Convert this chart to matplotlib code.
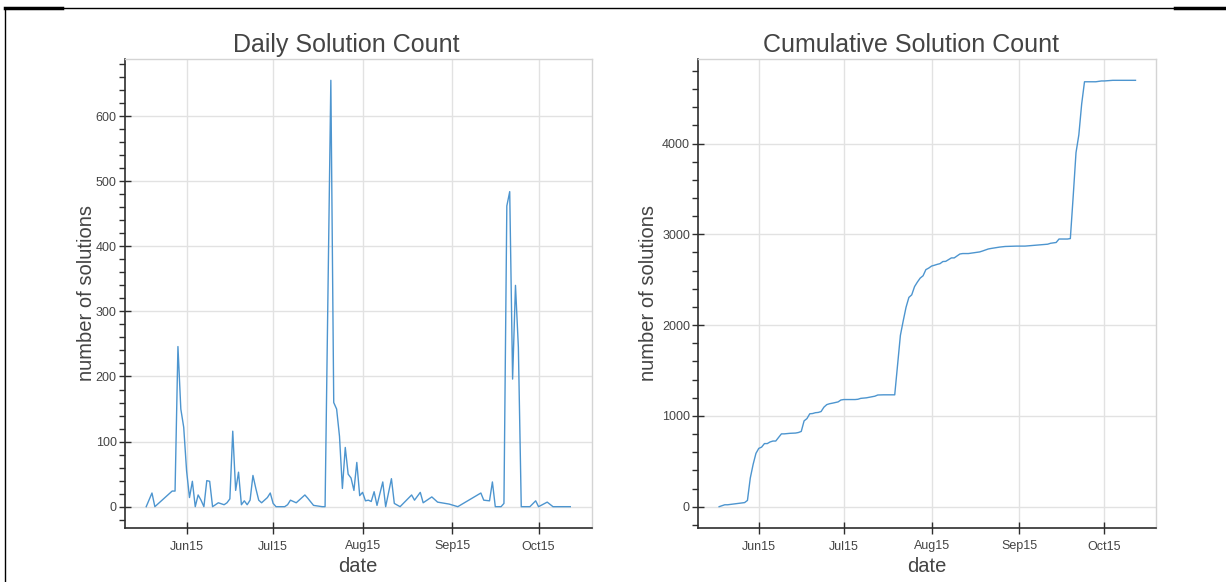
import datetime as dt
import numpy as np
import matplotlib
matplotlib.use('Agg')
import matplotlib.pyplot as plt
import matplotlib.dates as mdates
from matplotlib.ticker import MultipleLocator, FixedLocator
from matplotlib.lines import Line2D

plt.rcParams['font.family'] = ['Liberation Sans', 'DejaVu Sans']

# daily solution counts
dates = [
    '2015-05-18', '2015-05-20', '2015-05-21', '2015-05-27', '2015-05-28',
    '2015-05-29', '2015-05-30', '2015-05-31', '2015-06-01', '2015-06-02',
    '2015-06-03', '2015-06-04', '2015-06-05', '2015-06-06', '2015-06-07',
    '2015-06-08', '2015-06-09', '2015-06-10', '2015-06-12', '2015-06-14',
    '2015-06-15', '2015-06-16', '2015-06-17', '2015-06-18', '2015-06-19',
    '2015-06-20', '2015-06-21', '2015-06-22', '2015-06-23', '2015-06-24',
    '2015-06-25', '2015-06-26', '2015-06-27', '2015-06-29', '2015-06-30',
    '2015-07-01', '2015-07-02', '2015-07-05', '2015-07-06', '2015-07-07',
    '2015-07-09', '2015-07-12', '2015-07-13', '2015-07-15', '2015-07-18',
    '2015-07-19', '2015-07-21', '2015-07-22', '2015-07-23', '2015-07-24',
    '2015-07-25', '2015-07-26', '2015-07-27', '2015-07-28', '2015-07-29',
    '2015-07-30', '2015-07-31', '2015-08-01', '2015-08-02', '2015-08-03',
    '2015-08-04', '2015-08-05', '2015-08-06', '2015-08-08', '2015-08-09',
    '2015-08-11', '2015-08-12', '2015-08-14', '2015-08-18', '2015-08-19',
    '2015-08-21', '2015-08-22', '2015-08-25', '2015-08-27', '2015-08-31',
    '2015-09-03', '2015-09-11', '2015-09-12', '2015-09-14', '2015-09-15',
    '2015-09-16', '2015-09-18', '2015-09-19', '2015-09-20', '2015-09-21',
    '2015-09-22', '2015-09-23', '2015-09-24', '2015-09-25', '2015-09-28',
    '2015-09-30', '2015-10-01', '2015-10-04', '2015-10-06', '2015-10-12',
]
counts = [
    0, 21, 0, 24, 24,
    246, 150, 122, 55, 14,
    39, 0, 18, 10, 0,
    40, 39, 0, 6, 3,
    6, 12, 116, 25, 53,
    3, 9, 3, 10, 48,
    28, 10, 6, 14, 21,
    5, 0, 0, 3, 10,
    6, 18, 13, 2, 0,
    0, 655, 160, 150, 108,
    28, 91, 50, 44, 25,
    68, 17, 22, 9, 10,
    8, 23, 2, 38, 0,
    43, 5, 0, 18, 10,
    22, 6, 15, 7, 4,
    0, 21, 10, 9, 38,
    0, 0, 5, 462, 484,
    196, 340, 245, 0, 0,
    9, 0, 7, 0, 0,
]

month_ticks = ['2015-06-01', '2015-07-01', '2015-08-01', '2015-09-01', '2015-10-01']

x = mdates.date2num([dt.datetime.strptime(s, '%Y-%m-%d') for s in dates])
cumulative = np.cumsum(counts)
xticks = mdates.date2num([dt.datetime.strptime(s, '%Y-%m-%d') for s in month_ticks])

W, H = 1226, 582
fig = plt.figure(figsize=(W / 100, H / 100), dpi=100)

line_color = '#4d95cf'
axis_color = '#2e2e2e'
text_color = '#444444'
grid_color = '#e2e2e2'


def padded(lo, hi, frac=0.05):
    span = hi - lo
    return lo - span * frac, hi + span * frac


def style(ax, y, major, minor):
    ax.plot(x, y, color=line_color, lw=1.0)
    ax.set_xlim(*padded(x.min(), x.max()))
    ax.set_ylim(*padded(0, max(y)))
    ax.xaxis.set_major_locator(FixedLocator(xticks))
    ax.xaxis.set_major_formatter(mdates.DateFormatter('%b%y'))
    ax.yaxis.set_major_locator(MultipleLocator(major))
    ax.yaxis.set_minor_locator(MultipleLocator(minor))
    ax.grid(True, which='major', color=grid_color, lw=1.0)
    ax.set_axisbelow(True)
    for side in ['top', 'right']:
        ax.spines[side].set_color('#d4d4d4')
        ax.spines[side].set_linewidth(1.0)
    for side in ['left', 'bottom']:
        ax.spines[side].set_color(axis_color)
        ax.spines[side].set_linewidth(1.2)
    ax.tick_params(which='major', direction='inout', length=8, width=1,
                   color=axis_color, labelsize=9, labelcolor=text_color)
    ax.tick_params(axis='y', which='minor', direction='out', length=4,
                   width=1, color=axis_color)
    ax.tick_params(axis='x', which='major', pad=5)
    ax.tick_params(axis='y', which='major', pad=2)


top, bottom = 59, 528
ax1 = fig.add_axes([125 / W, (H - bottom) / H, 466.5 / W, (bottom - top) / H])
ax2 = fig.add_axes([698.3 / W, (H - bottom) / H, 458 / W, (bottom - top) / H])

style(ax1, counts, 100, 20)
style(ax2, cumulative, 1000, 200)

# titles and axis labels
fig.text(346.5 / W, (H - 52) / H, 'Daily Solution Count', fontsize=18,
         color=text_color, ha='center', va='baseline')
fig.text(911 / W, (H - 52) / H, 'Cumulative Solution Count', fontsize=18,
         color=text_color, ha='center', va='baseline')
fig.text(86 / W, (H - 293) / H, 'number of solutions', fontsize=14.5,
         color=text_color, rotation=90, ha='center', va='center')
fig.text(648 / W, (H - 293) / H, 'number of solutions', fontsize=14.5,
         color=text_color, rotation=90, ha='center', va='center')
fig.text(358 / W, (H - 566) / H, 'date', fontsize=14.5,
         color=text_color, ha='center', va='center')
fig.text(927 / W, (H - 566) / H, 'date', fontsize=14.5,
         color=text_color, ha='center', va='center')

# surrounding cell border
fig.add_artist(Line2D([5 / W, 1226 / W], [(H - 7.5) / H] * 2, color='black', lw=1))
fig.add_artist(Line2D([5 / W, 62 / W], [(H - 7.5) / H] * 2, color='black', lw=2.5))
fig.add_artist(Line2D([1175 / W, 1226 / W], [(H - 7.5) / H] * 2, color='black', lw=2.5))
fig.add_artist(Line2D([5 / W, 5 / W], [0, (H - 7.5) / H], color='black', lw=1))

fig.savefig('out.png', dpi=100)
